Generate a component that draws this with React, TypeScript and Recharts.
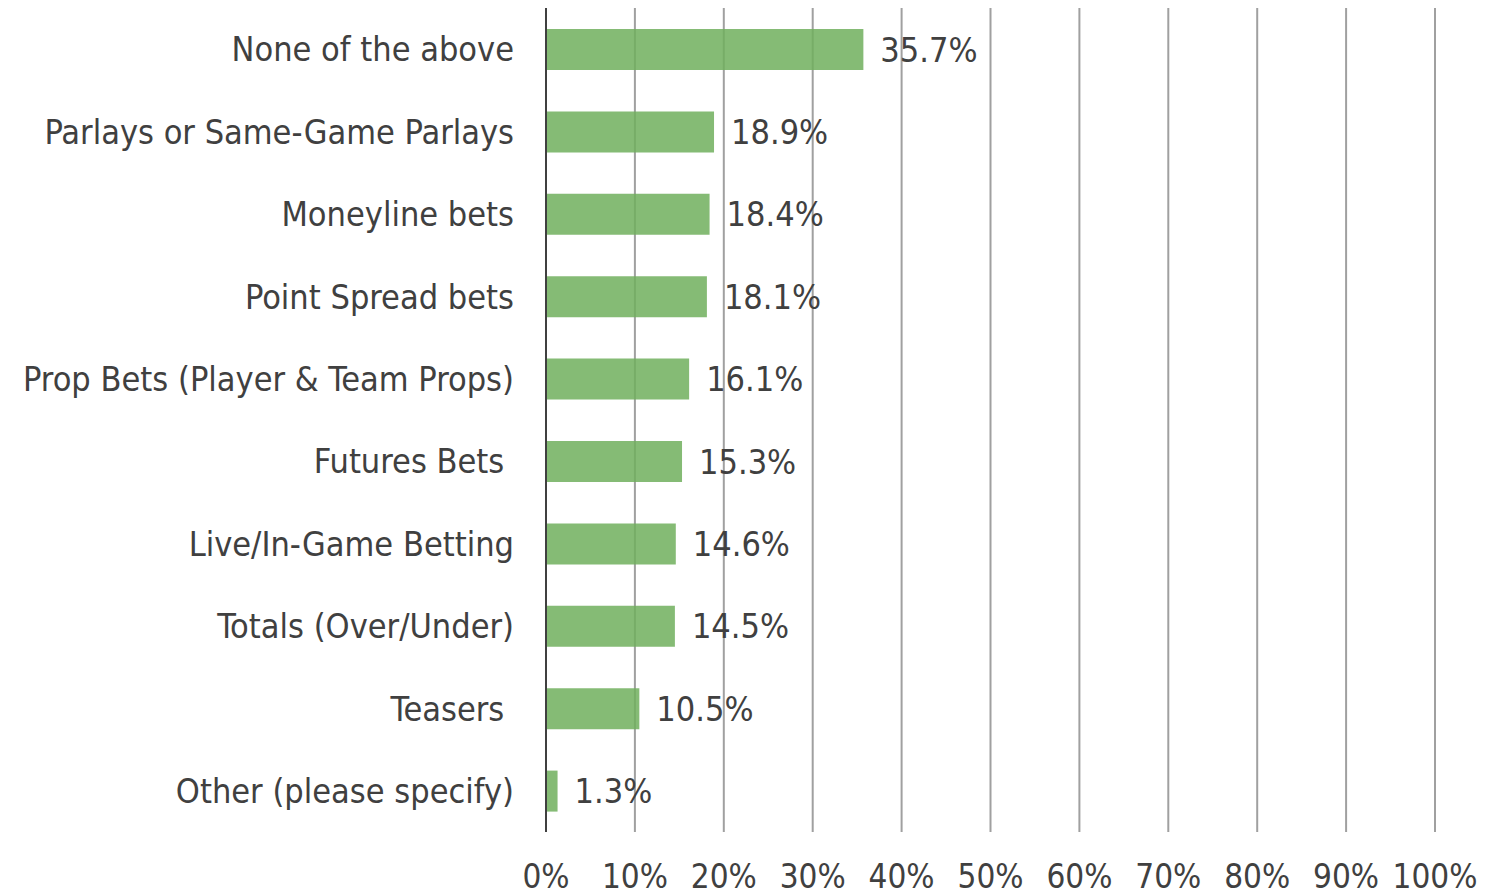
import React from "react";
import { BarChart, Bar, XAxis, YAxis, CartesianGrid, LabelList } from "recharts";

const categories = [
  "None of the above",
  "Parlays or Same-Game Parlays",
  "Moneyline bets",
  "Point Spread bets",
  "Prop Bets (Player & Team Props)",
  "Futures Bets ",
  "Live/In-Game Betting",
  "Totals (Over/Under)",
  "Teasers ",
  "Other (please specify)",
];
const values = [35.7, 18.9, 18.4, 18.1, 16.1, 15.3, 14.6, 14.5, 10.5, 1.3];
const xTicks = [0, 10, 20, 30, 40, 50, 60, 70, 80, 90, 100];

const data = categories.map((c, i) => ({ name: c, value: values[i] }));

const FONT = "'DejaVu Sans Condensed', 'DejaVu Sans', sans-serif";
const TEXT = "#404040";

const YTick = (props: any) => {
  const { x, y, payload } = props;
  return (
    <text
      x={x}
      y={y}
      dy="0.36em"
      textAnchor="end"
      fill={TEXT}
      fontSize={34}
      fontFamily={FONT}
      style={{ whiteSpace: "pre" }}
    >
      {payload.value}
    </text>
  );
};

export default function App() {
  return (
    <div style={{ position: "absolute", left: 0, top: 0, background: "#fff" }}>
      <BarChart
        width={1497}
        height={896}
        data={data}
        layout="vertical"
        margin={{ top: 8, right: 62, bottom: 0, left: 0 }}
      >
        <CartesianGrid horizontal={false} stroke="#a0a0a0" strokeWidth={2} />
        <XAxis
          type="number"
          domain={[0, 100]}
          ticks={xTicks}
          tickFormatter={(v: number) => `${v}%`}
          axisLine={false}
          tickLine={false}
          tickMargin={27}
          height={64}
          interval={0}
          tick={{ fill: TEXT, fontSize: 33, fontFamily: FONT }}
        />
        <YAxis
          type="category"
          dataKey="name"
          width={546}
          axisLine={{ stroke: "#404040", strokeWidth: 2 }}
          tickLine={false}
          tickMargin={26}
          interval={0}
          tick={<YTick />}
        />
        <Bar dataKey="value" fill="#70AF5D" fillOpacity={0.85} barSize={41} isAnimationActive={false}>
          <LabelList
            dataKey="value"
            position="right"
            offset={17}
            formatter={(v: number) => `${v.toFixed(1)}%`}
            fill={TEXT}
            fontSize={34}
            fontFamily={FONT}
          />
        </Bar>
      </BarChart>
    </div>
  );
}
